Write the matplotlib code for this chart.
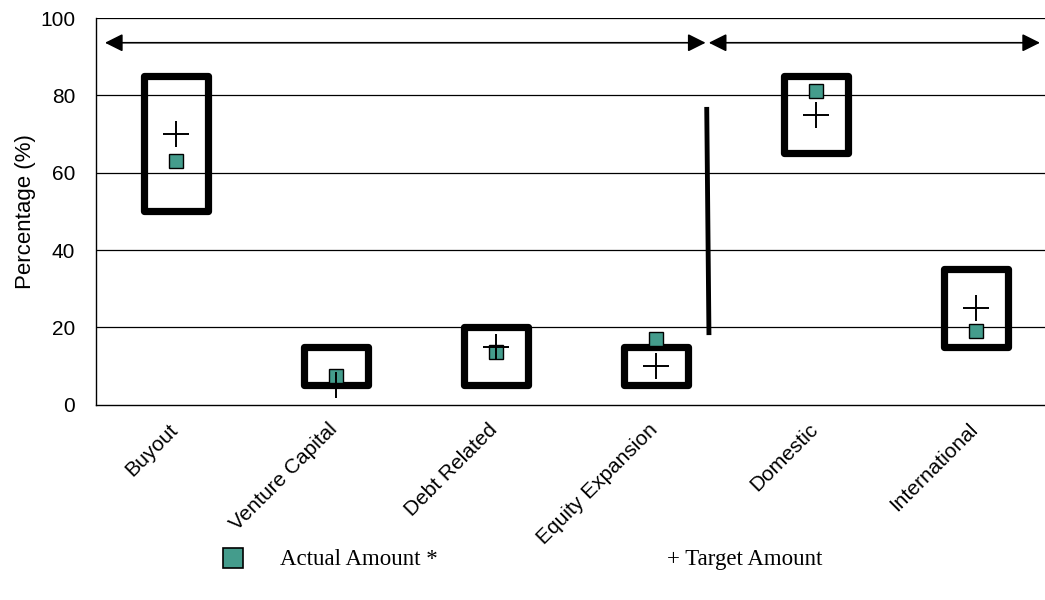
import matplotlib
matplotlib.use("Agg")
from matplotlib import pyplot as plt
from matplotlib.patches import Rectangle, FancyArrowPatch
from matplotlib.lines import Line2D
import matplotlib.transforms as mtransforms
import numpy as np

# Allocation categories: strategy on the left, geography on the right
categories = ["Buyout", "Venture Capital", "Debt Related",
              "Equity Expansion", "Domestic", "International"]
range_low = [50, 5, 5, 5, 65, 15]
range_high = [85, 15, 20, 15, 85, 35]
actual = [63, 7.5, 13.5, 17, 81, 19]
target = [70, 5, 15, 10, 75, 25]

y_ticks = [0, 20, 40, 60, 80, 100]

green = "#449C8C"

plt.rcParams["font.family"] = ["Liberation Sans", "DejaVu Sans"]

fig = plt.figure(figsize=(10.45, 6), dpi=100)
ax = fig.add_axes([96 / 1045, 195.3 / 600, 960 / 1045, 386.7 / 600])

x = np.arange(len(categories)) + 0.5

# Gridlines
for t in y_ticks[1:]:
    ax.axhline(t, color="black", lw=0.9, zorder=1)

# Allowed ranges as heavy outlined boxes
half_w = 0.2
for xi, lo, hi in zip(x, range_low, range_high):
    rect = Rectangle((xi - half_w, lo), 2 * half_w, hi - lo, fill=False,
                     edgecolor="black", lw=5.2, joinstyle="round", zorder=3)
    ax.add_patch(rect)

# Actual and target amounts
ax.plot(x, actual, "s", color=green, markersize=10, markeredgecolor="black",
        markeredgewidth=1.0, zorder=4, linestyle="none")
ax.plot(x, target, "+", color="black", markersize=19, markeredgewidth=1.4,
        zorder=5, linestyle="none")

# Divider between the two groups
ax.plot([3.817, 3.831], [77, 18], color="black", lw=3.5,
        solid_capstyle="butt", zorder=3)

# Group span arrows
for x0, x1 in [(0.056, 3.81), (3.83, 5.90)]:
    arr = FancyArrowPatch((x0, 93.6), (x1, 93.6),
                          arrowstyle="<|-|>,head_length=10.8,head_width=5.4",
                          mutation_scale=1, color="black", lw=1.2,
                          shrinkA=0, shrinkB=0, zorder=3)
    ax.add_patch(arr)

ax.set_xlim(0, 6)
ax.set_ylim(0, 100)
ax.set_yticks(y_ticks)
ax.set_yticklabels([str(t) for t in y_ticks], fontsize=15)
ax.tick_params(axis="y", length=0, pad=15)
ax.set_ylabel("Percentage (%)", fontsize=16, labelpad=3)

ax.set_xticks(x)
ax.set_xticklabels(categories, fontsize=15, rotation=45, ha="right",
                   va="top", rotation_mode="anchor")
ax.tick_params(axis="x", length=0, pad=11)
shift = mtransforms.ScaledTranslation(-8 / 100, 0, fig.dpi_scale_trans)
for lab in ax.get_xticklabels():
    lab.set_transform(lab.get_transform() + shift)

for s in ["top", "right"]:
    ax.spines[s].set_visible(False)
for s in ["left", "bottom"]:
    ax.spines[s].set_linewidth(1.0)
ax.spines["bottom"].set_zorder(2)

# Legend drawn below the plot
fig.add_artist(Line2D([232.5 / 1045], [0.07], marker="s", markersize=15,
                      color=green, markeredgecolor="black",
                      markeredgewidth=1.2, transform=fig.transFigure))
fig.text(280 / 1045, 0.068, "Actual Amount *", fontsize=16.5,
         family=["Liberation Serif", "DejaVu Serif"], va="center")
fig.text(667 / 1045, 0.068, "+ Target Amount", fontsize=16.5,
         family=["Liberation Serif", "DejaVu Serif"], va="center")

fig.savefig("out.png", dpi=100)
